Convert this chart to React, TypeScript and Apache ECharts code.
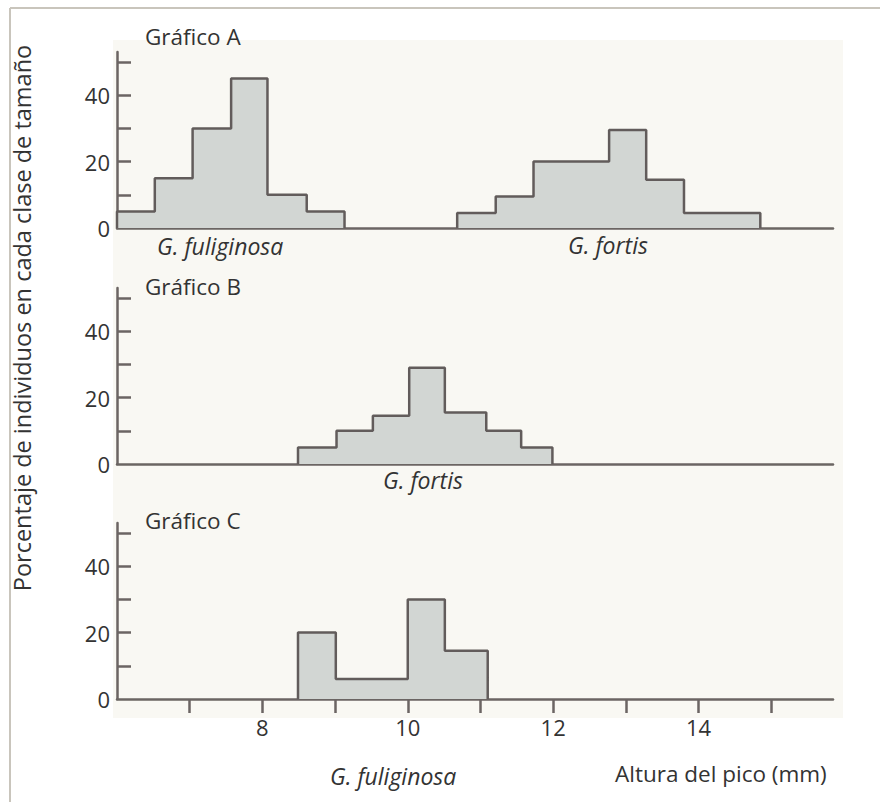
import React, { useEffect, useRef } from "react";
import * as echarts from "echarts";

// ---- Data (beak height in mm, % of individuals per size class) ----
const graphAFuliginosaEdges = [6.0, 6.52, 7.04, 7.57, 8.07, 8.61, 9.13];
const graphAFuliginosaValues = [5, 15, 30, 45, 10, 5];
const graphAFortisEdges = [10.68, 11.21, 11.73, 12.25, 12.77, 13.28, 13.8, 14.32, 14.85];
const graphAFortisValues = [4.5, 9.5, 20, 20, 29.5, 14.5, 4.5, 4.5];
const graphBFortisEdges = [8.49, 9.02, 9.52, 10.02, 10.51, 11.08, 11.56, 11.99];
const graphBFortisValues = [5, 10, 14.5, 29, 15.5, 10, 5];
const graphCFuliginosaEdges = [8.49, 9.01, 9.5, 10.0, 10.51, 11.1];
const graphCFuliginosaValues = [20, 6, 6, 30, 14.5];

const yTicks = [10, 20, 30, 40, 50];
const yLabels = [0, 20, 40];
const xTicks = [7, 8, 9, 10, 11, 12, 13, 14, 15];
const xLabels = [8, 10, 12, 14];

const panelTitles = ["Gráfico A", "Gráfico B", "Gráfico C"];
const yTitle = "Porcentaje de individuos en cada clase de tamaño";
const xTitle = "Altura del pico (mm)";

const FONT = "'Open Sans', 'Noto Sans', sans-serif";
const AXIS = "#6b6563";
const TEXT = "#333333";
const FS = 22;

function stepData(edges: number[], values: number[]) {
  const pts: number[][] = [[edges[0], 0]];
  values.forEach((v, i) => pts.push([edges[i], v]));
  pts.push([edges[edges.length - 1], 0]);
  return pts;
}

function histSeries(idx: number, edges: number[], values: number[]) {
  return {
    type: "line",
    xAxisIndex: idx,
    yAxisIndex: idx,
    step: "end",
    showSymbol: false,
    symbol: "none",
    data: stepData(edges, values),
    lineStyle: { color: "#625c5b", width: 2.5 },
    areaStyle: { color: "#d2d6d3", opacity: 1 },
    z: 3,
  };
}

export default function App() {
  const ref = useRef<HTMLDivElement>(null);
  useEffect(() => {
    if (!ref.current) return;
    const chart = echarts.init(ref.current, undefined, { renderer: "svg" });
    const gridTops = [52, 288, 523];
    const grids = gridTops.map((t) => ({ left: 117, right: 47, top: t, height: 176 }));
    const xAxes = [0, 1, 2].map((i) => ({
      type: "value",
      gridIndex: i,
      min: 6,
      max: 15.85,
      axisLine: { show: true, lineStyle: { color: AXIS, width: 2.5 } },
      axisTick:
        i === 2
          ? { show: true, inside: false, length: 14, customValues: xTicks, lineStyle: { color: AXIS, width: 2.5 } }
          : { show: false },
      axisLabel:
        i === 2
          ? { show: true, customValues: xLabels, margin: 17, fontSize: FS, color: TEXT, fontFamily: FONT }
          : { show: false },
      splitLine: { show: false },
    }));
    const yAxes = [0, 1, 2].map((i) => ({
      type: "value",
      gridIndex: i,
      min: 0,
      max: 53,
      axisLine: { show: true, onZero: false, lineStyle: { color: AXIS, width: 2.5 } },
      axisTick: { show: true, inside: true, length: 14, customValues: yTicks, lineStyle: { color: AXIS, width: 2.5 } },
      axisLabel: { show: true, customValues: yLabels, margin: 7, fontSize: FS, color: TEXT, fontFamily: FONT },
      splitLine: { show: false },
    }));
    const txt = (text: string, x: number, y: number, italic = false, size = FS) => ({
      type: "text",
      x,
      y,
      z: 100,
      style: {
        text,
        fill: TEXT,
        fontSize: size,
        fontFamily: FONT,
        fontStyle: italic ? "italic" : "normal",
        verticalAlign: "middle",
        align: "left",
      },
    });
    chart.setOption({
      animation: false,
      backgroundColor: "#ffffff",
      grid: grids,
      xAxis: xAxes,
      yAxis: yAxes,
      series: [
        histSeries(0, graphAFuliginosaEdges, graphAFuliginosaValues),
        histSeries(0, graphAFortisEdges, graphAFortisValues),
        histSeries(1, graphBFortisEdges, graphBFortisValues),
        histSeries(2, graphCFuliginosaEdges, graphCFuliginosaValues),
      ],
      graphic: [
        { type: "rect", z: -10, shape: { x: 113, y: 40, width: 730, height: 678 }, style: { fill: "#f9f8f3" } },
        { type: "line", z: 100, shape: { x1: 10, y1: 8, x2: 880, y2: 8 }, style: { stroke: "#c9c5bc", lineWidth: 2 } },
        { type: "line", z: 100, shape: { x1: 10, y1: 8, x2: 10, y2: 802 }, style: { stroke: "#c9c5bc", lineWidth: 2 } },
        txt(panelTitles[0], 145, 36, false, 22.5),
        txt(panelTitles[1], 145, 286, false, 22.5),
        txt(panelTitles[2], 145, 520, false, 22.5),
        txt("G. fuliginosa", 157, 246, true, 23),
        txt("G. fortis", 568, 245, true, 23),
        txt("G. fortis", 383, 480, true, 23),
        txt("G. fuliginosa", 330, 776, true, 23),
        txt(xTitle, 615, 773, false, 22.5),
        {
          type: "text",
          x: 22,
          y: 318,
          rotation: Math.PI / 2,
          z: 100,
          style: {
            text: yTitle,
            fill: TEXT,
            fontSize: 23.5,
            fontFamily: FONT,
            align: "center",
            verticalAlign: "middle",
          },
        },
      ],
    });
    return () => chart.dispose();
  }, []);
  return <div ref={ref} style={{ position: "fixed", left: 0, top: 0, width: 880, height: 802 }} />;
}
